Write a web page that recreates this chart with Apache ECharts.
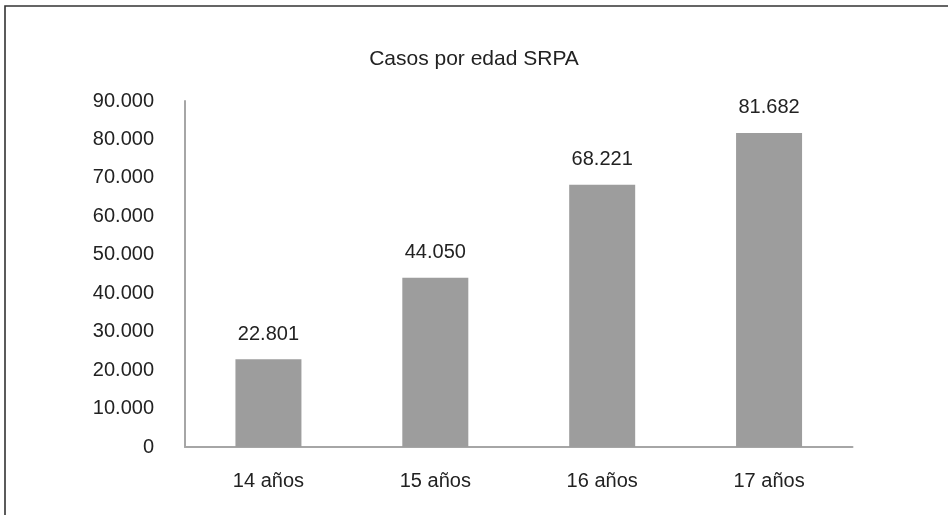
<!DOCTYPE html>
<html>
<head>
<meta charset="utf-8">
<script src="https://cdn.jsdelivr.net/npm/echarts@6/dist/echarts.min.js"></script>
<style>
  html, body { margin: 0; padding: 0; background: #ffffff; }
  #chart { width: 948px; height: 515px; }
</style>
</head>
<body>
<div id="chart"></div>
<script>
// Cases by age in the SRPA system
const categories = ['14 años', '15 años', '16 años', '17 años'];
const casos = [22801, 44050, 68221, 81682];
const yMin = 0;
const yMax = 90000;
const yStep = 10000;

const FONT = "'Liberation Sans Narrow', 'Arial Narrow', 'Liberation Sans', Arial, sans-serif";
const TEXT = '#222222';
const AXIS = '#a6a6a6';

// Spanish-style thousands separator: 81682 -> 81.682
function miles(v) {
  return String(Math.round(v)).replace(/\B(?=(\d{3})+(?!\d))/g, '.');
}

const chart = echarts.init(document.getElementById('chart'), null, { renderer: 'canvas' });

chart.setOption({
  animation: false,
  backgroundColor: '#ffffff',
  title: {
    text: 'Casos por edad SRPA',
    left: 'center',
    top: 44,
    textStyle: { fontFamily: FONT, fontSize: 21, fontWeight: 'normal', color: TEXT }
  },
  grid: { left: 185, right: 95.5, top: 101, bottom: 68, containLabel: false },
  xAxis: {
    type: 'category',
    data: categories,
    axisLine: { show: true, lineStyle: { color: AXIS, width: 2 } },
    axisTick: { show: false },
    axisLabel: { fontFamily: FONT, fontSize: 20, color: TEXT, margin: 24 },
    splitLine: { show: false }
  },
  yAxis: {
    type: 'value',
    min: yMin,
    max: yMax,
    interval: yStep,
    axisLine: { show: true, lineStyle: { color: AXIS, width: 2 } },
    axisTick: { show: false },
    splitLine: { show: false },
    axisLabel: {
      fontFamily: FONT, fontSize: 20, color: TEXT, margin: 31,
      formatter: miles
    }
  },
  series: [{
    type: 'bar',
    data: casos,
    barWidth: 66,
    itemStyle: { color: '#9d9d9d' },
    label: {
      show: true,
      position: 'top',
      distance: 15,
      fontFamily: FONT,
      fontSize: 20,
      color: TEXT,
      formatter: p => miles(p.value)
    }
  }],
  graphic: [{
    type: 'polyline',
    silent: true,
    shape: { points: [[5, 515], [5, 6], [948, 6]] },
    style: { stroke: '#333333', lineWidth: 1.6, fill: null }
  }]
});
</script>
</body>
</html>
